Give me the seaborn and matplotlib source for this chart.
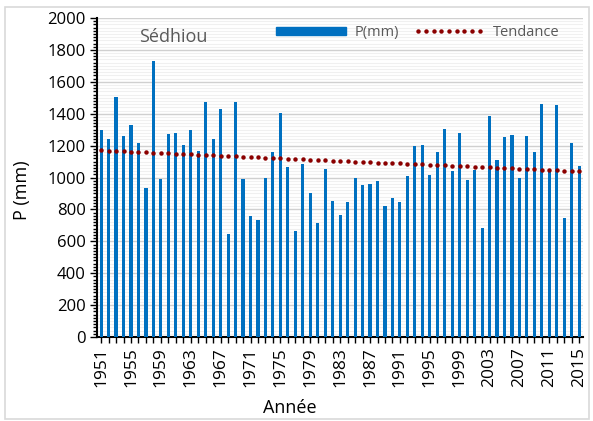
import numpy as np
import pandas as pd
import matplotlib
matplotlib.use("Agg")
import matplotlib.pyplot as plt
import seaborn as sns
from matplotlib.patches import Patch, Rectangle
from matplotlib.lines import Line2D
from matplotlib.ticker import MultipleLocator

years = list(range(1951, 2016))
precip = [1298, 1240, 1507, 1260, 1327, 1216, 934, 1732, 991, 1273,
          1281, 1206, 1298, 1166, 1473, 1240, 1430, 644, 1473, 993,
          759, 736, 995, 1158, 1402, 1066, 667, 1085, 905, 717,
          1053, 855, 765, 848, 999, 951, 959, 976, 823, 874,
          844, 1009, 1200, 1202, 1014, 1160, 1302, 1043, 1281, 982,
          1049, 681, 1386, 1110, 1256, 1268, 995, 1262, 1160, 1461,
          1051, 1453, 746, 1214, 1070]
station = "Sédhiou"
series_label = "P(mm)"
trend_label = "Tendance"

df = pd.DataFrame({"Année": [str(y) for y in years], "P": precip})

plt.rcParams.update({
    'font.family': ['Open Sans', 'DejaVu Sans'],
    'xtick.bottom': True, 'ytick.left': True,
    'xtick.top': False, 'ytick.right': False,
    'xtick.major.size': 4, 'xtick.major.width': 1,
    'ytick.major.size': 5, 'ytick.major.width': 1,
    'ytick.minor.size': 3, 'ytick.minor.width': 1,
    'xtick.color': 'black', 'ytick.color': 'black',
    'xtick.direction': 'out', 'ytick.direction': 'out',
    'axes.edgecolor': 'black', 'axes.linewidth': 1.5,
})

fig = plt.figure(figsize=(5.93, 4.21), dpi=100)
ax = fig.add_axes([0.1636, 0.1995, 0.8194, 0.7577])

blue = "#0070C0"
red = "#8B0000"

sns.barplot(data=df, x="Année", y="P", color=blue, width=0.42,
            saturation=1, ax=ax, zorder=3)

# linear trend from data, drawn as a dotted row of round markers
xs = np.arange(len(years))
coef = np.polyfit(xs, np.array(precip, dtype=float), 1)
trend = np.polyval(coef, xs)
ax.plot(xs, trend, color=red, linestyle="none", marker="o",
        markersize=3.2, markeredgewidth=0, zorder=4)

ax.set_xlim(-0.55, len(years) - 0.5)
ax.set_ylim(0, 2000)
ax.yaxis.set_major_locator(MultipleLocator(200))
ax.yaxis.set_minor_locator(MultipleLocator(20))
ax.grid(axis="y", which="major", color="#d0d0d0", lw=1.0)
ax.grid(axis="y", which="minor", color="#f0f0f0", lw=0.8)
ax.grid(axis="x", visible=False)

ax.set_xticks(xs)
ax.set_xticklabels([str(y) if (y - 1951) % 4 == 0 else "" for y in years],
                   rotation=90, fontsize=12.5)
ax.tick_params(axis="x", which="major", bottom=True, length=4, width=1,
               color="black", direction="out")
ax.tick_params(axis="x", which="minor", bottom=False)
ax.tick_params(axis="y", which="major", left=True, length=5, width=1,
               color="black", direction="out", labelsize=12, pad=3)
ax.tick_params(axis="y", which="minor", left=True, length=3, width=1,
               color="black", direction="out")

ax.spines["top"].set_visible(False)
ax.spines["right"].set_visible(False)

ax.set_xlabel("Année", fontsize=13, va="center")
ax.xaxis.set_label_coords(0.397, -0.223)
ax.set_ylabel("P (mm)", fontsize=13, va="center")
ax.yaxis.set_label_coords(-0.155, 0.46)

ax.text(0.087, 0.94, station, transform=ax.transAxes, fontsize=13,
        color="#595959", va="center", ha="left")

handles = [Patch(facecolor=blue, edgecolor=blue),
           Line2D([0], [0], color=red, linestyle="none", marker="o",
                  markersize=3.2, markeredgewidth=0)]
leg = ax.legend(handles, [series_label, trend_label], loc="center",
                bbox_to_anchor=(0.66, 0.955), ncol=2, frameon=False,
                fontsize=10.5, handlelength=4.8, handleheight=0.5,
                numpoints=9, columnspacing=1.0, handletextpad=0.6)
for t in leg.get_texts():
    t.set_color("#595959")

fig.add_artist(Rectangle((5 / 593, 2 / 421), 584 / 593, 412 / 421,
                         transform=fig.transFigure, fill=False,
                         edgecolor="#d9d9d9", lw=1.2, zorder=-1))

fig.canvas.draw()
fig.savefig("out.png", dpi=100)
